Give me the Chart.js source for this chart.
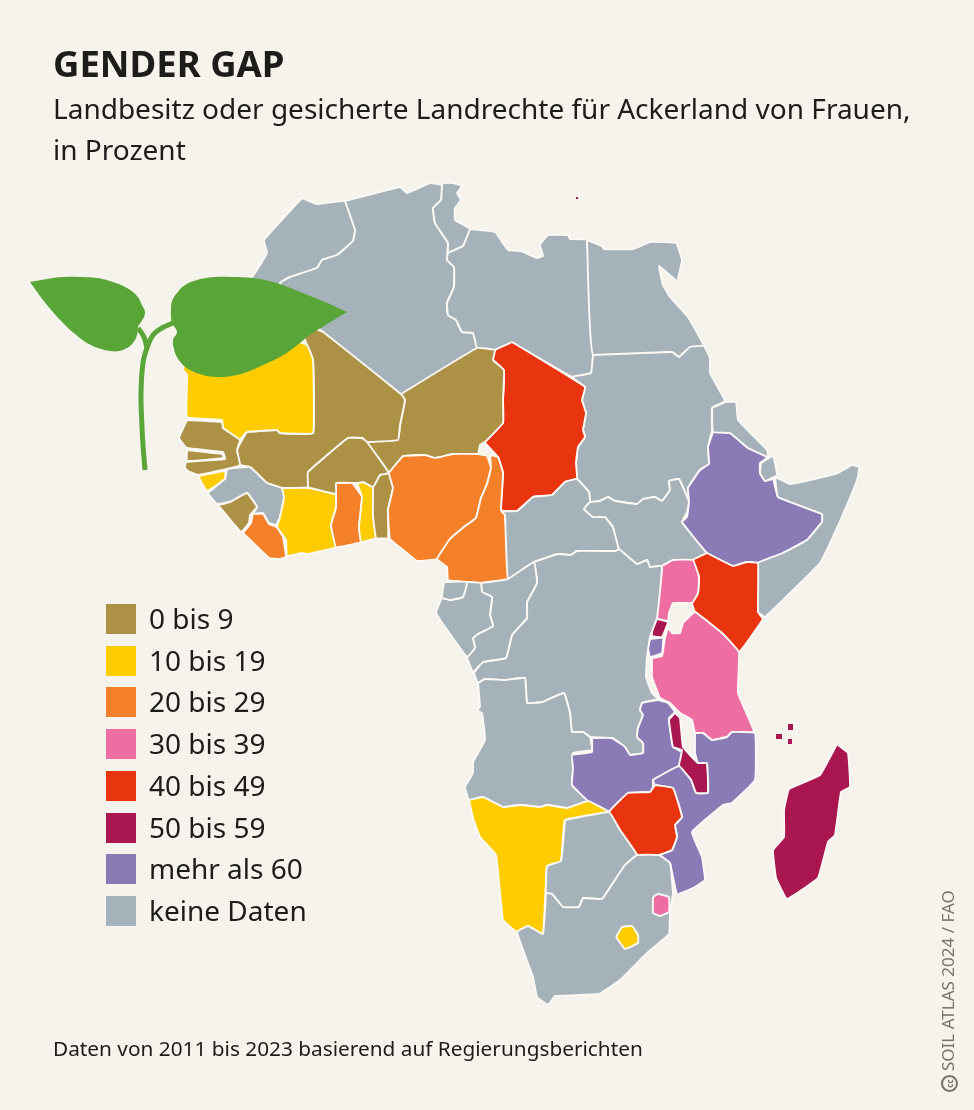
<!DOCTYPE html>
<html lang="de">
<head>
<meta charset="utf-8">
<title>Gender Gap</title>
<script src="https://cdn.jsdelivr.net/npm/chart.js@4"></script>
<style>
  html, body { margin: 0; padding: 0; background: #f6f2ec; }
  #page { position: relative; width: 974px; height: 1110px; overflow: hidden; font-family: "Noto Sans", sans-serif; color: #1e1c1a; }
  #page canvas { position: absolute; left: 0; top: 0; }
  .txt { position: absolute; white-space: nowrap; }
  #title { left: 53px; top: 38px; font-size: 36.5px; line-height: 50px; font-weight: 700; }
  #sub1 { left: 53px; top: 86px; font-size: 28px; line-height: 44px; }
  #sub2 { left: 53px; top: 127px; font-size: 28px; line-height: 44px; }
  #foot { left: 53px; top: 1032px; font-size: 20.8px; line-height: 32px; }
  #credit { left: 948px; top: 1092px; font-size: 17px; line-height: 20px; color: #75726c; transform-origin: 0 0; transform: rotate(-90deg) translateY(-10px); }
  .cc { display: inline-block; width: 13px; height: 13px; border: 2px solid #75726c; border-radius: 50%; font-size: 8px; line-height: 13px; text-align: center; font-weight: 700; margin-right: 4px; vertical-align: 1px; }
  .swatch { position: absolute; left: 106px; width: 30px; height: 30px; }
  .label { position: absolute; left: 149px; font-size: 28px; line-height: 40px; white-space: nowrap; }
</style>
</head>
<body>
<div id="page">
  <canvas id="map" width="974" height="1110"></canvas>
  <div class="txt" id="title">GENDER GAP</div>
  <div class="txt" id="sub1">Landbesitz oder gesicherte Landrechte für Ackerland von Frauen,</div>
  <div class="txt" id="sub2">in Prozent</div>
  <div id="legend"></div>
  <div class="txt" id="foot">Daten von 2011 bis 2023 basierend auf Regierungsberichten</div>
  <div class="txt" id="credit"><span class="cc">cc</span>SOIL ATLAS 2024 / FAO</div>
</div>
<script>
const legendLabels = ['0 bis 9', '10 bis 19', '20 bis 29', '30 bis 39', '40 bis 49', '50 bis 59', 'mehr als 60', 'keine Daten'];
const legendColors = ['#ad9145', '#ffcc00', '#f4812a', '#ee6da3', '#e83510', '#aa1650', '#8a7ab6', '#a6b2ba'];

// country outlines in map units, y pointing down
const morocco = [[302,198],[317,204],[345,201],[355,230],[353,241],[337,255],[322,260],[317,268],[290,277],[280,283],[300,315],[240,320],[215,300],[252,277],[267,253],[264,240]];
const algeria = [[345,201],[400,187],[407,193],[430,183],[442,185],[441,200],[433,208],[435,223],[448,243],[447,260],[454,267],[454,287],[447,303],[448,315],[456,320],[462,332],[473,333],[477,348],[401,394],[323,332],[300,315],[280,283],[290,277],[317,268],[322,260],[337,255],[353,241],[355,230]];
const tunisia = [[442,185],[443,183],[453,183],[462,186],[457,193],[461,200],[455,208],[455,220],[470,229],[463,246],[448,253],[448,243],[435,223],[433,208],[441,200]];
const libya = [[470,229],[495,232],[508,250],[521,251],[537,258],[543,256],[540,245],[548,235],[568,235],[570,239],[587,240],[593,355],[591,373],[572,377],[512,343],[495,350],[477,348],[473,333],[462,332],[456,320],[448,315],[447,303],[454,287],[454,267],[447,260],[448,253],[463,246]];
const egypt = [[587,240],[602,246],[604,249],[633,249],[650,242],[676,243],[682,260],[677,281],[659,266],[663,285],[670,297],[688,317],[704,346],[690,347],[679,357],[672,352],[593,355]];
const sudan = [[593,355],[672,352],[679,357],[690,347],[704,346],[710,358],[710,373],[725,401],[712,408],[712,430],[708,447],[709,464],[700,470],[688,488],[689,502],[679,479],[669,481],[670,490],[662,501],[655,497],[643,499],[637,504],[615,501],[608,497],[600,501],[590,502],[589,492],[577,479],[576,463],[578,447],[585,437],[583,430],[586,413],[582,400],[585,387],[572,377],[591,373]];
const chad = [[512,342],[585,387],[582,400],[586,413],[583,430],[585,437],[578,447],[576,463],[577,479],[565,482],[552,495],[533,497],[517,511],[501,510],[503,473],[498,457],[485,442],[503,423],[503,400],[504,370],[493,360],[495,350]];
const niger = [[401,394],[477,348],[495,350],[493,360],[504,370],[503,400],[503,423],[485,442],[480,445],[478,454],[453,454],[435,458],[425,455],[403,456],[389,473],[367,442],[398,440],[400,425],[405,400]];
const mali = [[401,394],[405,400],[400,425],[398,440],[367,442],[362,438],[348,438],[308,472],[308,487],[282,488],[267,483],[250,467],[240,465],[237,450],[242,440],[247,432],[277,430],[280,433],[313,433],[313,360],[307,345],[300,325],[323,332]];
const mauritania = [[183,370],[187,375],[187,417],[222,420],[223,428],[239,440],[247,432],[277,430],[280,433],[313,433],[313,360],[307,345],[260,330],[190,340]];
const senegal = [[187,420],[222,422],[223,428],[240,440],[237,450],[240,465],[227,469],[198,475],[188,471],[185,468],[186,462],[225,459],[223,452],[187,448],[179,438]];
const gambia = [[187,450],[222,454],[224,458],[187,461]];
const sierraLeone = [[198,476],[225,471],[225,479],[207,491]];
const guinea = [[227,469],[250,467],[267,483],[282,488],[284,497],[280,517],[276,525],[269,523],[263,513],[253,514],[257,507],[247,493],[230,502],[217,504],[208,493],[225,479]];
const guineaSouth = [[218,505],[230,502],[247,493],[257,507],[250,515],[249,523],[241,532]];
const liberia = [[243,533],[251,523],[253,514],[263,514],[269,524],[277,527],[283,537],[286,557],[280,559],[269,558]];
const ivoryCoast = [[282,488],[310,488],[336,494],[336,508],[331,525],[336,547],[307,554],[302,553],[287,556],[286,540],[277,527],[280,517],[284,497]];
const ghana = [[336,483],[352,483],[362,497],[359,527],[361,542],[336,547],[331,525],[336,508],[336,494]];
const togo = [[357,483],[363,482],[373,487],[373,515],[376,538],[361,542],[359,527],[362,497]];
const benin = [[373,487],[380,475],[389,473],[393,488],[388,510],[388,538],[376,538],[373,515]];
const burkina = [[308,487],[308,472],[348,438],[362,438],[367,442],[389,473],[380,475],[373,487],[363,482],[357,483],[336,483],[336,494],[310,488]];
const nigeria = [[403,456],[425,455],[435,458],[453,454],[478,454],[487,456],[491,468],[487,484],[481,498],[476,518],[464,527],[450,539],[437,559],[417,561],[407,553],[390,539],[388,510],[393,488],[389,473]];
const cameroon = [[490,455],[498,457],[503,473],[501,510],[505,515],[508,579],[482,583],[467,582],[448,580],[447,567],[437,559],[450,539],[464,527],[476,518],[481,498],[487,484],[491,468]];
const car = [[501,511],[517,511],[533,497],[552,495],[565,482],[577,479],[589,492],[590,502],[584,509],[593,517],[605,517],[613,527],[619,549],[616,551],[577,551],[571,555],[558,554],[534,562],[508,579],[505,515]];
const southSudan = [[590,502],[600,501],[608,497],[615,501],[637,504],[643,499],[655,497],[662,501],[670,490],[669,481],[679,479],[689,502],[687,512],[682,522],[707,553],[693,560],[673,560],[662,566],[650,567],[647,560],[637,564],[619,549],[613,527],[605,517],[593,517],[584,509]];
const ethiopia = [[713,432],[730,433],[748,448],[768,457],[760,463],[760,473],[765,481],[773,479],[778,497],[822,514],[822,522],[807,540],[783,553],[758,563],[747,562],[733,566],[707,553],[682,522],[687,517],[689,502],[688,488],[700,470],[709,464],[708,447]];
const eritrea = [[712,408],[725,402],[736,402],[738,420],[767,450],[768,457],[748,448],[730,433],[713,432]];
const djibouti = [[761,463],[773,456],[777,475],[765,481],[760,473]];
const somalia = [[775,477],[790,484],[810,480],[838,473],[852,465],[859,467],[858,477],[850,498],[833,537],[820,563],[765,617],[758,612],[758,563],[783,553],[807,540],[822,522],[822,514],[778,497]];
const kenya = [[707,553],[733,566],[747,562],[758,563],[758,612],[763,619],[739,652],[723,634],[695,612],[692,603],[698,593],[699,577],[693,560]];
const uganda = [[662,566],[673,560],[693,560],[699,577],[698,593],[692,603],[673,603],[669,613],[668,621],[657,618]];
const rwanda = [[653,620],[657,619],[668,622],[662,637],[652,636]];
const burundi = [[650,639],[663,638],[662,653],[650,657],[648,648]];
const tanzania = [[652,658],[662,656],[665,638],[668,628],[672,633],[680,633],[683,623],[695,612],[723,634],[739,652],[738,693],[754,732],[732,732],[727,737],[712,740],[703,733],[695,733],[692,720],[680,713],[670,703],[660,698],[652,677]];
const drc = [[534,562],[558,554],[571,555],[577,551],[616,551],[619,549],[637,564],[647,560],[650,567],[662,566],[657,618],[650,637],[647,657],[646,677],[652,693],[658,699],[642,703],[640,710],[643,715],[638,728],[637,737],[643,743],[643,753],[630,755],[625,747],[612,738],[590,737],[583,732],[572,732],[570,713],[564,693],[542,702],[527,703],[525,678],[505,680],[485,679],[478,683],[474,673],[483,662],[506,658],[512,635],[527,618],[527,602],[537,583]];
const congo = [[481,583],[508,579],[534,562],[537,583],[527,602],[527,618],[512,635],[506,658],[483,662],[473,672],[467,657],[475,648],[473,638],[478,634],[493,626],[490,615],[492,597],[482,592]];
const gabon = [[467,582],[463,597],[450,600],[442,598],[436,613],[467,657],[475,648],[473,638],[478,634],[493,626],[490,615],[492,597],[482,592],[481,583]];
const eqGuinea = [[444,582],[467,582],[463,597],[450,600],[442,598]];
const angola = [[478,683],[485,679],[505,680],[525,678],[527,703],[542,702],[564,693],[570,713],[572,732],[583,732],[590,737],[592,750],[573,753],[573,770],[572,785],[588,801],[567,808],[548,805],[540,807],[520,805],[503,807],[483,797],[469,800],[465,787],[473,773],[473,762],[485,740],[482,713],[477,710],[480,707]];
const zambia = [[592,738],[612,738],[625,747],[630,755],[643,753],[643,743],[637,737],[638,728],[643,715],[640,710],[642,703],[658,700],[668,703],[675,712],[669,718],[673,747],[682,752],[679,766],[653,780],[653,787],[650,792],[628,793],[609,812],[588,801],[572,785],[573,768],[572,755],[592,752]];
const malawi = [[675,713],[680,718],[683,747],[698,763],[707,763],[708,793],[696,793],[691,780],[679,766],[682,750],[673,747],[669,720]];
const mozambique = [[695,733],[703,733],[712,740],[727,737],[732,732],[755,733],[755,780],[732,803],[723,805],[692,832],[702,857],[705,880],[695,887],[677,894],[670,863],[659,855],[672,850],[677,837],[675,825],[682,817],[673,788],[655,785],[653,780],[679,766],[691,780],[696,793],[708,793],[707,763],[698,763],[695,753]];
const zimbabwe = [[655,785],[673,788],[682,817],[675,825],[677,837],[672,850],[659,855],[637,855],[620,830],[609,812],[628,793],[650,792]];
const namibia = [[469,800],[483,797],[503,807],[520,805],[540,807],[548,805],[567,808],[588,801],[609,812],[565,820],[561,861],[547,866],[543,934],[528,926],[517,932],[503,920],[496,855],[480,837],[473,818]];
const botswana = [[565,820],[609,812],[620,830],[637,855],[625,865],[613,883],[602,899],[583,898],[579,907],[563,907],[552,894],[546,893],[547,866],[561,861]];
const southAfrica = [[546,893],[552,894],[563,907],[579,907],[583,898],[602,899],[613,883],[625,865],[637,855],[659,855],[670,863],[673,893],[670,913],[669,934],[647,953],[620,980],[599,994],[555,996],[548,1005],[537,997],[533,977],[517,932],[528,926],[543,934]];
const eswatini = [[653,897],[658,894],[669,897],[669,912],[660,916],[653,913]];
const lesotho = [[616,937],[622,927],[632,926],[638,935],[638,943],[625,949]];
const madagascar = [[837,744],[848,753],[850,787],[841,792],[835,835],[828,842],[818,878],[787,899],[776,878],[773,850],[784,837],[784,810],[789,789],[820,775]];
const comorosA = [[776,734],[782,734],[782,739],[776,739]];
const comorosB = [[788,739],[792,739],[792,744],[788,744]];
const mayotte = [[788,724],[793,724],[793,730],[788,730]];
const malta = [[576,197],[578,197],[578,199],[576,199]];
const dots = [comorosA, comorosB, mayotte, malta];

// [outline, legend class]; 7 = keine Daten
const countries = [
  [morocco, 7], [algeria, 7], [tunisia, 7], [libya, 7], [egypt, 7], [sudan, 7],
  [chad, 4], [niger, 0], [mali, 0], [mauritania, 1], [senegal, 0], [gambia, 0],
  [sierraLeone, 1], [guinea, 7], [guineaSouth, 0], [liberia, 2], [ivoryCoast, 1],
  [ghana, 2], [togo, 1], [benin, 0], [burkina, 0], [nigeria, 2], [cameroon, 2],
  [car, 7], [southSudan, 7], [ethiopia, 6], [eritrea, 7], [djibouti, 7], [somalia, 7],
  [kenya, 4], [uganda, 3], [rwanda, 5], [burundi, 6], [tanzania, 3], [drc, 7],
  [congo, 7], [gabon, 7], [eqGuinea, 7], [angola, 7], [zambia, 6], [malawi, 5],
  [mozambique, 6], [zimbabwe, 4], [namibia, 1], [botswana, 7], [southAfrica, 7],
  [eswatini, 3], [lesotho, 1], [madagascar, 5], [comorosA, 5], [comorosB, 5], [mayotte, 5], [malta, 5],
];

// plant on top of the map
const leafLeft = [[30,282],[47,279],[63,277],[80,277],[97,278],[113,282],[127,288],[137,296],[143,307],[145,312],[144,317],[141,322],[138,327],[137,335],[133,343],[127,348],[119,351],[110,351],[98,348],[87,343],[75,334],[63,323],[52,311],[43,300]];
const leafRight = [[347,312],[325,302],[303,293],[288,287],[273,282],[253,278],[233,277],[214,277],[197,280],[185,285],[177,293],[172,301],[171,310],[171,317],[172,323],[177,332],[173,340],[174,349],[177,357],[183,365],[190,370],[203,375],[217,377],[232,376],[247,372],[263,365],[280,357],[295,347],[310,335]];
const stemMain = [[145,470],[143,445],[142,427],[141,393],[143,363],[147,348],[153,335],[162,328],[173,323]];
const stemBranch = [[138,328],[144,337],[147,348]];

const GREEN = '#5aa537';

function xy(pts) {
  return pts.map(p => ({ x: p[0], y: p[1] }));
}

function countryDataset(c) {
  const pts = c[0];
  const isDot = dots.includes(pts);
  return {
    data: xy(pts.concat([pts[0]])),
    showLine: true,
    fill: 'shape',
    backgroundColor: legendColors[c[1]],
    borderColor: '#fbf9f5',
    borderWidth: isDot ? 0 : 1.9,
    borderJoinStyle: 'round',
    pointRadius: 0,
    tension: isDot ? 0 : 0.08,
  };
}

function plantDataset(pts, closed) {
  return {
    data: xy(closed ? pts.concat([pts[0]]) : pts),
    showLine: true,
    fill: closed ? 'shape' : false,
    backgroundColor: GREEN,
    borderColor: GREEN,
    borderWidth: closed ? 0 : 5,
    pointRadius: 0,
    tension: 0.4,
  };
}

// chart.js paints the first dataset last, so the plant goes first
const datasets = [
  plantDataset(leafRight, true),
  plantDataset(leafLeft, true),
  plantDataset(stemMain, false),
  plantDataset(stemBranch, false),
  ...countries.slice().reverse().map(countryDataset),
];

new Chart(document.getElementById('map'), {
  type: 'scatter',
  data: { datasets },
  options: {
    responsive: false,
    animation: false,
    devicePixelRatio: 1,
    layout: { padding: 0 },
    plugins: { legend: { display: false }, tooltip: { enabled: false } },
    scales: {
      x: { type: 'linear', min: 0, max: 974, display: false },
      y: { type: 'linear', min: 0, max: 1110, reverse: true, display: false },
    },
  },
});

document.getElementById('legend').innerHTML = legendLabels.map((l, i) => {
  const top = 604 + i * 41.7;
  return `<div class="swatch" style="top:${top}px;background:${legendColors[i]}"></div>` +
    `<div class="label" style="top:${top - 6}px">${l}</div>`;
}).join('');
</script>
</body>
</html>
